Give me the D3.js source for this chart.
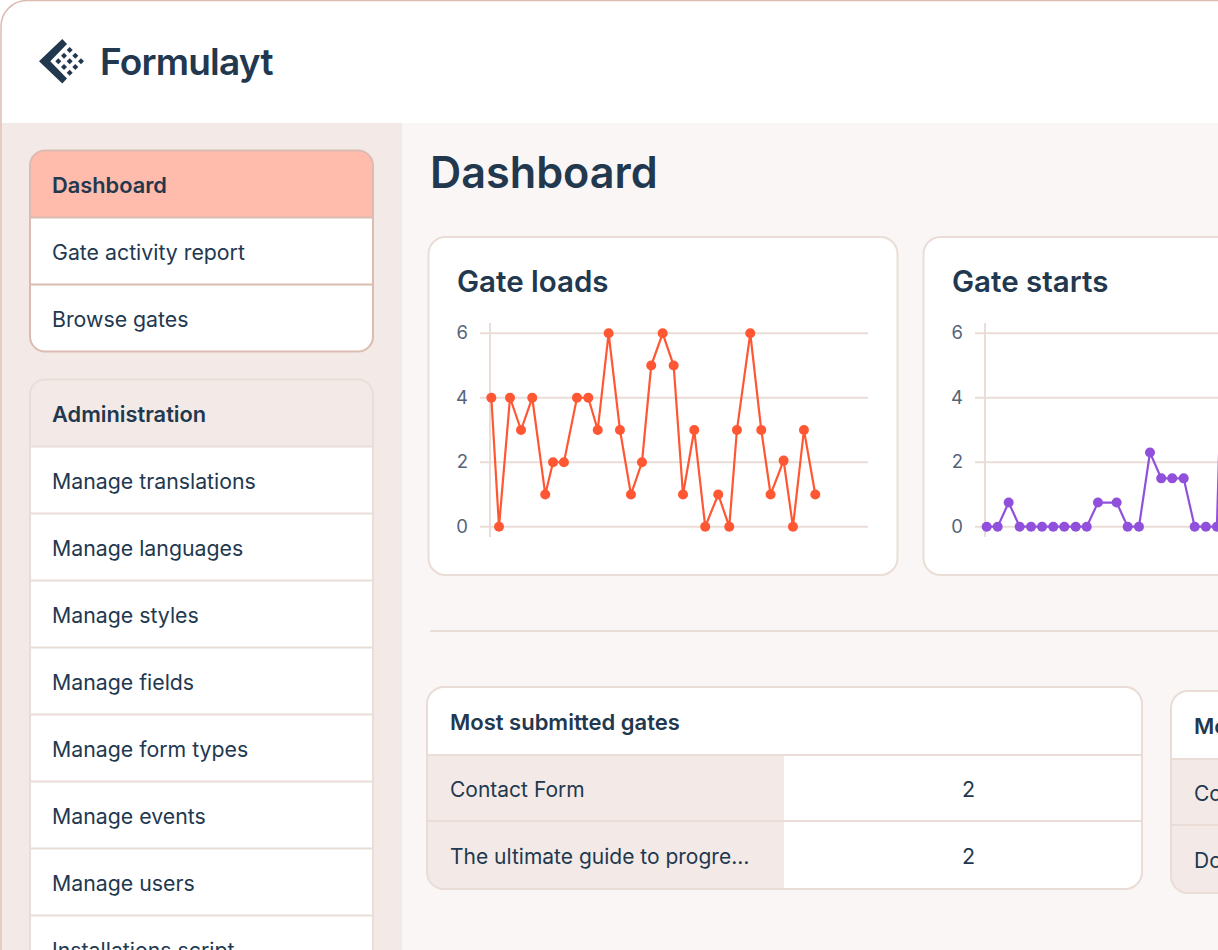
<!DOCTYPE html>
<html>
<head>
<meta charset="utf-8">
<script src="https://cdn.jsdelivr.net/npm/d3@7"></script>
<style>
  html, body { margin: 0; padding: 0; background: #fff; overflow: hidden; }
  svg { display: block; font-family: Inter, sans-serif; }
</style>
</head>
<body>
<svg id="page" width="1218" height="950"></svg>
<script>
// values
var yTicks = [0, 2, 4, 6];

var loadDays = [0.12, 0.81, 1.8, 2.79, 3.8, 4.97, 5.67, 6.65, 7.82, 8.84, 9.69, 10.67, 11.69, 12.68, 13.67, 14.5,
  15.53, 16.52, 17.36, 18.37, 19.36, 20.53, 21.52, 22.21, 23.41, 24.4, 25.24, 26.41, 27.25, 28.24, 29.26];
var loadValues = [4, 0, 4, 3, 4, 1, 2, 2, 4, 4, 3, 6, 3, 1, 2, 5, 6, 5, 1, 3, 0, 1, 0, 3, 6, 3, 1, 2.05, 0, 3, 1];

var startDays = [0.15, 1.14, 2.13, 3.12, 4.14, 5.13, 6.14, 7.13, 8.16, 9.15, 10.16, 11.84, 12.83, 13.85, 14.84,
  15.85, 16.84, 17.87, 18.86, 19.87, 20.86, 21.2];
var startValues = [0, 0, 0.75, 0, 0, 0, 0, 0, 0, 0, 0.75, 0.75, 0, 0, 2.3, 1.5, 1.5, 1.5, 0, 0, 0, 4];

var navTop = ["Dashboard", "Gate activity report", "Browse gates"];
var navAdmin = ["Administration", "Manage translations", "Manage languages", "Manage styles", "Manage fields",
  "Manage form types", "Manage events", "Manage users", "Installations script"];

var table1Rows = ["Contact Form", "The ultimate guide to progre…"];
var table1Values = [2, 2];
var table2Rows = ["Contact Form", "Download"];

var ink = "#22384f", line = "#eaddd7", panel = "#f3eae7", rose = "#dcbcb0";

var svg = d3.select("#page");

// page shell
svg.append("rect").attr("x", 1).attr("y", 0.5).attr("width", 1300).attr("height", 1100).attr("rx", 26)
  .attr("fill", "#fff").attr("stroke", rose).attr("stroke-width", 1.5);
svg.append("rect").attr("x", 2).attr("y", 123).attr("width", 400).attr("height", 827).attr("fill", panel);
svg.append("rect").attr("x", 402).attr("y", 123).attr("width", 816).attr("height", 827).attr("fill", "#faf6f5");

// logo
var logo = svg.append("g").attr("fill", ink);
logo.append("path").attr("d", "M39 61.3L62.3 39L67 44L50.3 61.3L67 78.5L62.3 83.5Z");
var dots = [[69.7, 50, 3], [64, 55.7, 3], [75.3, 55.7, 3], [58.3, 61.3, 3], [69.7, 61.3, 3], [81, 61.3, 3],
  [64, 67, 3], [75.3, 67, 3], [69.7, 72.7, 3]];
logo.selectAll("path.dot").data(dots).enter().append("path").attr("class", "dot")
  .attr("d", function(d) {
    return "M" + (d[0] - d[2]) + " " + d[1] + "L" + d[0] + " " + (d[1] - d[2]) + "L" + (d[0] + d[2]) + " " + d[1] + "L" + d[0] + " " + (d[1] + d[2]) + "Z";
  });
svg.append("text").attr("x", 100).attr("y", 75).attr("font-size", 37).attr("font-weight", 600)
  .attr("letter-spacing", -0.8).attr("fill", ink).text("Formulayt");

// sidebar lists
function navList(items, top, stroke, headFill, clipBottom) {
  var rowH = 67, left = 30, w = 343;
  var h = clipBottom ? 700 : items.length * rowH;
  var clipId = "clip" + Math.round(top);
  svg.append("clipPath").attr("id", clipId).append("rect")
    .attr("x", left).attr("y", top).attr("width", w).attr("height", h).attr("rx", 15);
  var g = svg.append("g");
  var inner = g.append("g").attr("clip-path", "url(#" + clipId + ")");
  inner.append("rect").attr("x", left).attr("y", top).attr("width", w).attr("height", h).attr("fill", "#fff");
  inner.append("rect").attr("x", left).attr("y", top).attr("width", w).attr("height", rowH).attr("fill", headFill);
  inner.selectAll("line").data(items.slice(1)).enter().append("line")
    .attr("x1", left).attr("x2", left + w)
    .attr("y1", function(d, i) { return top + rowH * (i + 1); })
    .attr("y2", function(d, i) { return top + rowH * (i + 1); })
    .attr("stroke", stroke).attr("stroke-width", 2);
  g.append("rect").attr("x", left).attr("y", top).attr("width", w).attr("height", h).attr("rx", 15)
    .attr("fill", "none").attr("stroke", stroke).attr("stroke-width", 2);
  g.selectAll("text").data(items).enter().append("text")
    .attr("x", 52).attr("y", function(d, i) { return top + rowH * i + 42; })
    .attr("font-size", function(d, i) { return i === 0 ? 21.8 : 21.3; })
    .attr("font-weight", function(d, i) { return i === 0 ? 600 : 400; })
    .attr("fill", ink).text(function(d) { return d; });
}
navList(navTop, 150.5, rose, "#ffbbab", false);
navList(navAdmin, 379.5, line, panel, true);

// heading
svg.append("text").attr("x", 430).attr("y", 188).attr("font-size", 43.2).attr("font-weight", 600)
  .attr("fill", ink).text("Dashboard");

// chart card
function card(cx, title, days, values, colour) {
  svg.append("rect").attr("x", cx).attr("y", 237).attr("width", 469).attr("height", 338).attr("rx", 17)
    .attr("fill", "#fff").attr("stroke", line).attr("stroke-width", 2);
  svg.append("text").attr("x", cx + 28.5).attr("y", 292).attr("font-size", 29.5).attr("font-weight", 600)
    .attr("fill", ink).text(title);

  var ox = cx + 61.5;
  var x = d3.scaleLinear().domain([0, 34]).range([ox, ox + 378]);
  var y = d3.scaleLinear().domain([0, 6]).range([526.7, 333.3]);

  var axis = svg.append("g").attr("transform", "translate(" + (ox - 10) + ",0)")
    .call(d3.axisLeft(y).offset(0).tickValues(yTicks).tickSize(-388).tickPadding(12).tickFormat(d3.format("d")));
  axis.select(".domain").remove();
  axis.selectAll("line").attr("stroke", line).attr("stroke-width", 2);
  axis.selectAll("text").attr("font-size", 18.5).attr("fill", "#54657a").attr("font-family", "Inter, sans-serif");

  svg.append("line").attr("x1", ox).attr("x2", ox).attr("y1", 323).attr("y2", 537)
    .attr("stroke", line).attr("stroke-width", 2);

  var pts = days.map(function(d, i) { return [d, values[i]]; });
  svg.append("path").datum(pts).attr("fill", "none").attr("stroke", colour).attr("stroke-width", 2.2)
    .attr("d", d3.line().x(function(d) { return x(d[0]); }).y(function(d) { return y(d[1]); }));
  svg.append("g").selectAll("circle").data(pts.filter(function(d) { return x(d[0]) < 1218; })).enter().append("circle")
    .attr("cx", function(d) { return x(d[0]); }).attr("cy", function(d) { return y(d[1]); })
    .attr("r", 5).attr("fill", colour);
}
card(428.5, "Gate loads", loadDays, loadValues, "#ff5733");
card(923.5, "Gate starts", startDays, startValues, "#9150dc");

// divider
svg.append("line").attr("x1", 430).attr("x2", 1218).attr("y1", 631).attr("y2", 631)
  .attr("stroke", line).attr("stroke-width", 2);

// tables
function table(tx, ty, w, title, rows, vals) {
  var clipId = "tbl" + tx;
  svg.append("clipPath").attr("id", clipId).append("rect").attr("x", tx).attr("y", ty).attr("width", w).attr("height", 202).attr("rx", 17);
  var g = svg.append("g");
  var inner = g.append("g").attr("clip-path", "url(#" + clipId + ")");
  inner.append("rect").attr("x", tx).attr("y", ty).attr("width", w).attr("height", 202).attr("fill", "#fff");
  inner.append("rect").attr("x", tx).attr("y", ty + 68).attr("width", 357).attr("height", 134).attr("fill", panel);
  [68, 134].forEach(function(dy) {
    inner.append("line").attr("x1", tx).attr("x2", tx + w).attr("y1", ty + dy).attr("y2", ty + dy)
      .attr("stroke", line).attr("stroke-width", 2);
  });
  g.append("rect").attr("x", tx).attr("y", ty).attr("width", w).attr("height", 202).attr("rx", 17)
    .attr("fill", "none").attr("stroke", line).attr("stroke-width", 2);
  g.append("text").attr("x", tx + 23).attr("y", ty + 43).attr("font-size", 22).attr("font-weight", 600)
    .attr("fill", ink).text(title);
  rows.forEach(function(r, i) {
    g.append("text").attr("x", tx + 23).attr("y", ty + 110 + i * 67).attr("font-size", 21)
      .attr("fill", ink).text(r);
    if (vals) g.append("text").attr("x", tx + 541.5).attr("y", ty + 110 + i * 67).attr("font-size", 21.5)
      .attr("text-anchor", "middle").attr("fill", ink).text(vals[i]);
  });
}
table(427, 687, 715, "Most submitted gates", table1Rows, table1Values);
table(1171, 691, 400, "Most viewed gates", table2Rows, null);
</script>
</body>
</html>
